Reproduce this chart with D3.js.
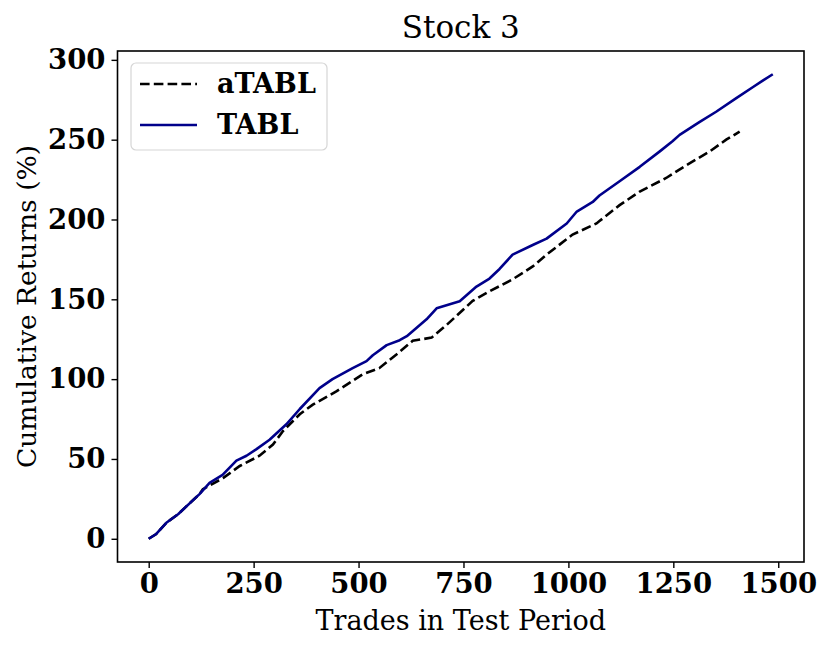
<!DOCTYPE html>
<html>
<head>
<meta charset="utf-8">
<script src="https://cdn.jsdelivr.net/npm/d3@7"></script>
<style>
  html, body { margin: 0; padding: 0; background: #fff; }
  svg { display: block; }
  text { font-family: "DejaVu Serif", serif; fill: #000; }
</style>
</head>
<body>
<svg id="chart" width="830" height="649"></svg>
<script>
// ---- data ----
const tablX = [0,18,42,70,121,145,176,209,233,256,288,328,360,407,438,486,519,534,567,598,615,662,686,741,781,812,836,867,915,948,996,1020,1058,1074,1122,1170,1217,1248,1265,1312,1352,1400,1440,1463,1487];
const tablY = [0,3,10,15.4,28,35,40,49,52,56,62,71.7,81.3,94.4,100,106.9,111.3,115,121.3,124.4,126.9,137.5,144.4,148.8,158,163,169,178,184,188,197.5,205,211,215,224,233,242.5,249,253,261,267.5,276,283,287,291];
const atablX = [0,18,42,70,121,129,177,217,264,296,320,360,391,448,510,550,591,629,674,710,772,812,867,915,948,1010,1067,1074,1122,1170,1233,1281,1336,1376,1408];
const atablY = [0,3,10,15.4,28,31,38,45.6,52,59,67.5,78,84,92.5,103,107,115.6,124,126,134,149,155,162.5,170.6,178,190.6,197.5,199,209,217.5,226,234,242.5,250,255];
const xTicks = [0,250,500,750,1000,1250,1500];
const yTicks = [0,50,100,150,200,250,300];
const seriesNames = ["aTABL","TABL"];
const title = "Stock 3";
const xLabel = "Trades in Test Period";
const yLabel = "Cumulative Returns (%)";

// ---- layout ----
const L = 117.5, R = 804, T = 51, B = 562;
const svg = d3.select("#chart");

const allX = tablX.concat(atablX), allY = tablY.concat(atablY);
const [x0, x1] = d3.extent(allX), [y0, y1] = d3.extent(allY);
const px = (x1 - x0) * 0.05, py = (y1 - y0) * 0.05;
const x = d3.scaleLinear().domain([x0 - px, x1 + px]).range([L, R]);
const y = d3.scaleLinear().domain([y0 - py, y1 + py]).range([B, T]);

const line = d3.line().x(d => x(d[0])).y(d => y(d[1]));
const atabl = atablX.map((v, i) => [v, atablY[i]]);
const tabl = tablX.map((v, i) => [v, tablY[i]]);

const LW = 2.6, DASH = "9.6,4.2";
const plot = svg.append("g");
plot.append("path").datum(atabl).attr("d", line)
  .attr("fill", "none").attr("stroke", "#000").attr("stroke-width", LW)
  .attr("stroke-dasharray", DASH);
plot.append("path").datum(tabl).attr("d", line)
  .attr("fill", "none").attr("stroke", "#00008b").attr("stroke-width", LW)
  .attr("stroke-linejoin", "round");

// frame
svg.append("rect").attr("x", L).attr("y", T).attr("width", R - L).attr("height", B - T)
  .attr("fill", "none").attr("stroke", "#000").attr("stroke-width", 1.6);

// axes
const xAxis = svg.append("g").attr("transform", `translate(0,${B})`)
  .call(d3.axisBottom(x).tickValues(xTicks).tickSize(6).tickPadding(5).tickFormat(d3.format("d")));
const yAxis = svg.append("g").attr("transform", `translate(${L},0)`)
  .call(d3.axisLeft(y).tickValues(yTicks).tickSize(6).tickPadding(6).tickFormat(d3.format("d")));
[xAxis, yAxis].forEach(a => {
  a.select(".domain").remove();
  a.selectAll(".tick line").attr("stroke", "#000").attr("stroke-width", 1.4);
  a.selectAll(".tick text").style("font-family", "'DejaVu Serif', serif")
    .style("font-weight", "bold").style("font-size", "27.5px").attr("fill", "#000");
});

// title and labels
svg.append("text").attr("x", (L + R) / 2).attr("y", 38).attr("text-anchor", "middle")
  .style("font-size", "31px").text(title);
svg.append("text").attr("x", (L + R) / 2).attr("y", 630).attr("text-anchor", "middle")
  .style("font-size", "27px").text(xLabel);
svg.append("text").attr("transform", `translate(36,${(T + B) / 2}) rotate(-90)`)
  .attr("text-anchor", "middle").style("font-size", "26.5px").text(yLabel);

// legend
const lg = svg.append("g");
lg.append("rect").attr("x", 131).attr("y", 63).attr("width", 196).attr("height", 87)
  .attr("rx", 5).attr("fill", "#fff").attr("fill-opacity", 0.8)
  .attr("stroke", "#d6d6d6").attr("stroke-width", 1.2);
const legendStyles = [
  {stroke: "#000", dash: DASH},
  {stroke: "#00008b", dash: null}
];
seriesNames.forEach((name, i) => {
  const yy = 84 + i * 41;
  lg.append("line").attr("x1", 140).attr("x2", 197).attr("y1", yy).attr("y2", yy)
    .attr("stroke", legendStyles[i].stroke).attr("stroke-width", LW)
    .attr("stroke-dasharray", legendStyles[i].dash);
  lg.append("text").attr("x", 217).attr("y", yy).attr("dy", "0.35em")
    .style("font-size", "27px").style("font-weight", "bold").text(name);
});
</script>
</body>
</html>
